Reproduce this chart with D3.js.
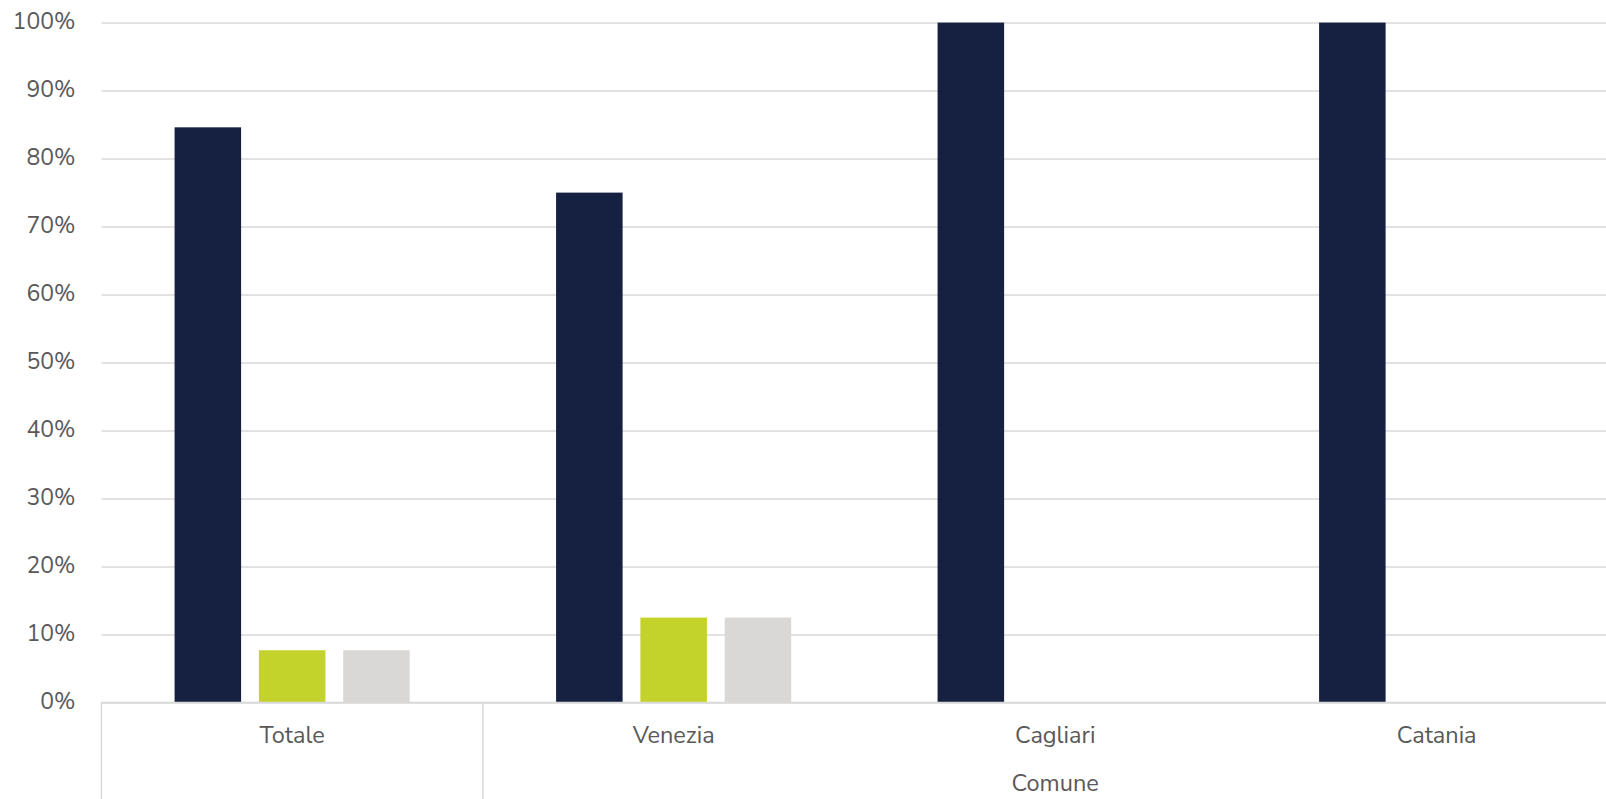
<!DOCTYPE html>
<html>
<head>
<meta charset="utf-8">
<script src="https://cdn.jsdelivr.net/npm/d3@7"></script>
<style>
  html, body { margin: 0; padding: 0; background: #fff; }
  svg { display: block; }
  text { font-family: "Nunito Sans", Lato, "Open Sans", sans-serif; fill: #595959; }
</style>
</head>
<body>
<svg id="chart" width="1606" height="799"></svg>
<script>
// ---- data ----
const categories = ["Totale", "Venezia", "Cagliari", "Catania"];
const groupLabels = ["", "Comune"];
const groupMembers = [["Totale"], ["Venezia", "Cagliari", "Catania"]];
const seriesNames = ["Serie 1", "Serie 2", "Serie 3"];
const serie1 = [0.846, 0.75, 1.0, 1.0];
const serie2 = [0.077, 0.125, 0, 0];
const serie3 = [0.077, 0.125, 0, 0];
const yTicks = [0, 0.1, 0.2, 0.3, 0.4, 0.5, 0.6, 0.7, 0.8, 0.9, 1.0];
const colors = ["#162142", "#c4d22c", "#d9d8d6"];

// ---- layout ----
const W = 1606, H = 799;
const left = 101.4, bandW = 381.5;
const right = left + bandW * categories.length;
const yTop = 22.6, yBase = 702.6;
const fsY = 23, fsX = 23.5;

const svg = d3.select("#chart");

const x = d3.scaleBand().domain(categories).range([left, right]).paddingInner(0).paddingOuter(0);
const xs = d3.scaleBand().domain(seriesNames).range([0, x.bandwidth()]).paddingInner(0.211).paddingOuter(0.868);
const y = d3.scaleLinear().domain([0, 1]).range([yBase, yTop]);

// gridlines
const yAxis = d3.axisLeft(y).tickValues(yTicks).tickFormat(d3.format(".0%")).tickSize(-(right - left)).tickPadding(26);
const gy = svg.append("g").attr("transform", `translate(${left},0)`).call(yAxis);
gy.select(".domain").remove();
gy.selectAll(".tick line").attr("stroke", "#d9d9d9").attr("stroke-width", 1.5);
gy.selectAll(".tick text").attr("font-size", fsY).attr("dy", "0.27em").style("fill", "#595959").attr("font-family", null);

// bars
const seriesData = [serie1, serie2, serie3];
seriesNames.forEach((name, si) => {
  svg.append("g").selectAll("rect")
    .data(categories.map((c, i) => ({ c, v: seriesData[si][i] })).filter(d => d.v > 0))
    .join("rect")
    .attr("x", d => x(d.c) + xs(name))
    .attr("width", xs.bandwidth())
    .attr("y", d => y(d.v))
    .attr("height", d => yBase - y(d.v))
    .attr("fill", colors[si]);
});

// category axis
const gx = svg.append("g").attr("transform", `translate(0,${yBase})`)
  .call(d3.axisBottom(x).tickSize(0).tickPadding(0));
gx.select(".domain").remove();
gx.selectAll(".tick text").attr("font-size", fsX).attr("dy", null).attr("y", 40)
  .style("fill", "#595959").attr("font-family", null);

// group separators
const seps = [left];
groupMembers.forEach(m => seps.push(x(m[m.length - 1]) + x.bandwidth()));
svg.append("g").selectAll("line").data(seps).join("line")
  .attr("x1", d => d).attr("x2", d => d)
  .attr("y1", yBase).attr("y2", H)
  .attr("stroke", "#d9d9d9").attr("stroke-width", 1.5);

// baseline
svg.append("line").attr("x1", left).attr("x2", right).attr("y1", yBase).attr("y2", yBase)
  .attr("stroke", "#d9d9d9").attr("stroke-width", 1.5);

// group labels
svg.append("g").selectAll("text").data(groupLabels.map((g, i) => ({ g, m: groupMembers[i] })))
  .join("text")
  .attr("x", d => (x(d.m[0]) + x(d.m[d.m.length - 1]) + x.bandwidth()) / 2)
  .attr("y", 791)
  .attr("text-anchor", "middle")
  .attr("font-size", fsX)
  .text(d => d.g);
</script>
</body>
</html>
